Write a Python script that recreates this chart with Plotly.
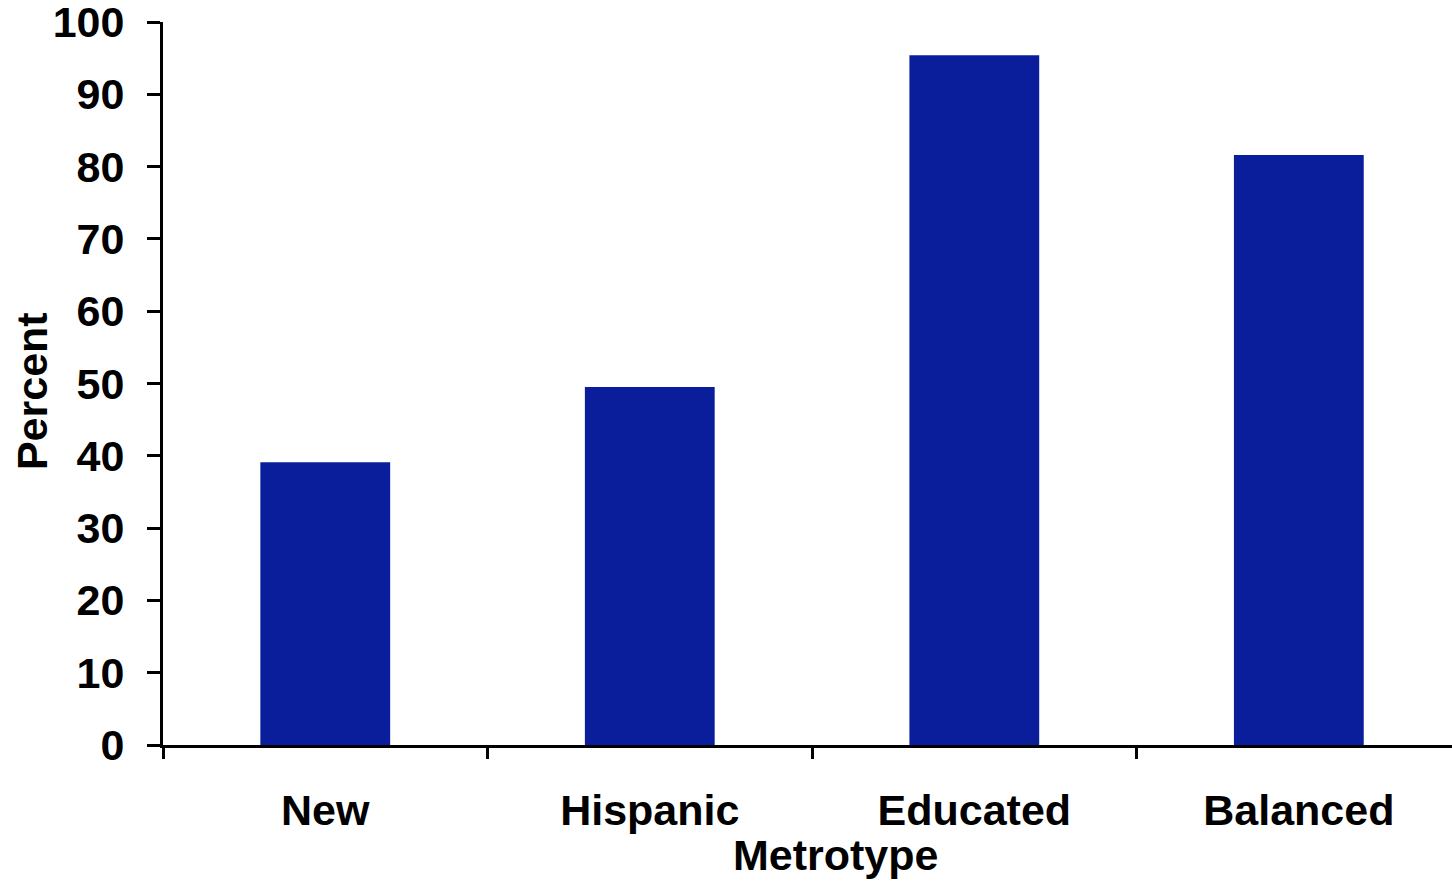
import plotly.graph_objects as go

categories = ["New", "Hispanic", "Educated", "Balanced"]
values = [39.1, 49.5, 95.4, 81.6]
y_ticks = [0, 10, 20, 30, 40, 50, 60, 70, 80, 90, 100]

FONT = "Liberation Sans, Arial, sans-serif"
FS = 43

fig = go.Figure(go.Bar(
    x=categories, y=values,
    marker=dict(color="#0A1E9C", line=dict(width=0)),
    width=0.4,
))

fig.update_layout(
    width=1452, height=881,
    margin=dict(l=163, r=0, t=22, b=136, autoexpand=False),
    paper_bgcolor="white", plot_bgcolor="white",
    showlegend=False,
    font=dict(family=FONT, size=FS, color="black"),
)
fig.add_annotation(
    text="<b>Metrotype</b>", xref="paper", yref="paper",
    x=0.522, y=-0.152, xanchor="center", yanchor="middle",
    showarrow=False, font=dict(family=FONT, size=FS, color="black"),
)
fig.add_annotation(
    text="<b>Percent</b>", xref="paper", yref="paper",
    x=-0.1016, y=0.4896, xanchor="center", yanchor="middle", textangle=-90,
    showarrow=False, font=dict(family=FONT, size=FS, color="black"),
)
fig.update_xaxes(
    type="category",
    range=[-0.5, 3.472],
    automargin=False,
    showline=True, linecolor="black", linewidth=3,
    ticks="outside", tickson="boundaries", ticklen=11, tickwidth=3, tickcolor="black",
    tickfont=dict(family=FONT, size=FS, color="black", weight="bold"),
    ticklabelstandoff=25,
    ticklabeloverflow="allow",
    showgrid=False, zeroline=False,
)
fig.update_yaxes(
    range=[0, 100],
    tickvals=y_ticks,
    ticktext=[str(v) for v in y_ticks],
    automargin=False,
    showline=True, linecolor="black", linewidth=3,
    ticks="outside", ticklen=13, tickwidth=3, tickcolor="black",
    tickfont=dict(family=FONT, size=FS, color="black", weight="bold"),
    ticklabelstandoff=14,
    ticklabeloverflow="allow",
    showgrid=False, zeroline=False,
)

fig.write_html(
    "out.html",
    config={"displayModeBar": False},
    post_script="document.body.style.margin='0';document.body.style.overflow='hidden';",
)
